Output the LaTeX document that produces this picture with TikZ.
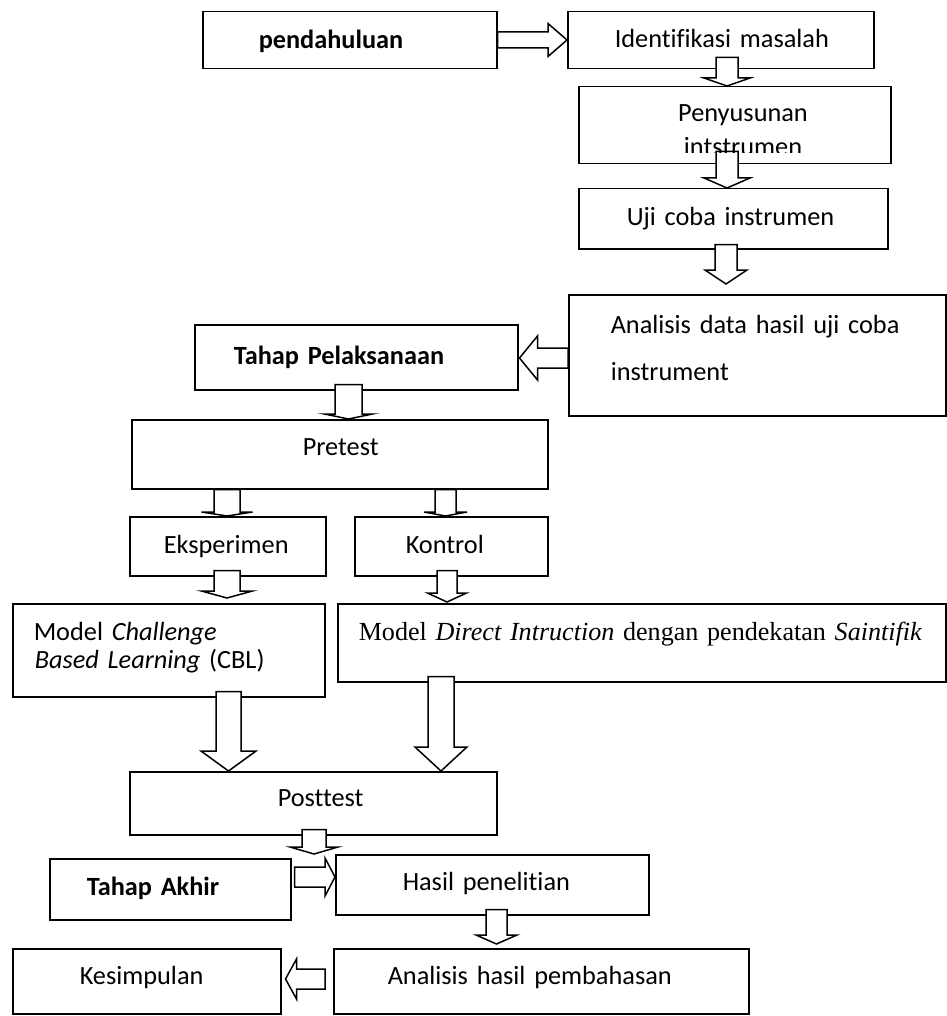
\documentclass[tikz,border=0pt]{standalone}
\usepackage{fontspec}
\setmainfont{Carlito}[Ligatures=NoCommon]
\newfontfamily\tnr{Liberation Serif}[Ligatures=NoCommon]
\usetikzlibrary{calc}
\tikzset{
  box/.style={draw, line width=1.5pt, fill=white, inner sep=0pt, anchor=north west,
              align=left, font=\fontsize{26.3}{32}\selectfont},
  oneline/.style={text height=19pt, text depth=#1},
  barrow/.style={draw, line width=1.5pt, fill=white, line join=miter},
  plaintext/.style={inner sep=0pt, font=\fontsize{26.3}{34}\selectfont, align=center}
}
% down arrow: from, to, x centre, shaft half, head half, head length, start inset, tip gap
\newcommand\dnarr[8]{%
  \draw[barrow] let \p1=(#1.south), \p2=(#2.north) in
    ({#3pt-#4pt},{\y1+(#7pt)}) -- ({#3pt+#4pt},{\y1+(#7pt)}) -- ({#3pt+#4pt},{\y2+(#8pt)+#6pt})
    -- ({#3pt+#5pt},{\y2+(#8pt)+#6pt}) -- ({#3pt},{\y2+(#8pt)}) -- ({#3pt-#5pt},{\y2+(#8pt)+#6pt})
    -- ({#3pt-#4pt},{\y2+(#8pt)+#6pt}) -- cycle;}
% right arrow
\newcommand\rtarr[8]{%
  \draw[barrow] let \p1=(#1.east), \p2=(#2.west) in
    ({\x1-(#7pt)},{-#3pt+#4pt}) -- ({\x2-(#8pt)-#6pt},{-#3pt+#4pt}) -- ({\x2-(#8pt)-#6pt},{-#3pt+#5pt})
    -- ({\x2-(#8pt)},{-#3pt}) -- ({\x2-(#8pt)-#6pt},{-#3pt-#5pt}) -- ({\x2-(#8pt)-#6pt},{-#3pt-#4pt})
    -- ({\x1-(#7pt)},{-#3pt-#4pt}) -- cycle;}
% left arrow
\newcommand\ltarr[8]{%
  \draw[barrow] let \p1=(#1.west), \p2=(#2.east) in
    ({\x1+(#7pt)},{-#3pt+#4pt}) -- ({\x2+(#8pt)+#6pt},{-#3pt+#4pt}) -- ({\x2+(#8pt)+#6pt},{-#3pt+#5pt})
    -- ({\x2+(#8pt)},{-#3pt}) -- ({\x2+(#8pt)+#6pt},{-#3pt-#5pt}) -- ({\x2+(#8pt)+#6pt},{-#3pt-#4pt})
    -- ({\x1+(#7pt)},{-#3pt-#4pt}) -- cycle;}
\begin{document}
\begin{tikzpicture}[x=1pt,y=-1pt]
\path[use as bounding box, fill=white] (0,0) rectangle (946,1016);

% boxes
\node[box, oneline=2pt, minimum width=294pt, minimum height=57pt, text width=294pt] (pend) at (202,11) {\hspace*{56pt}\textbf{pendahuluan}};
\node[box, oneline=4pt, minimum width=306pt, minimum height=57pt, text width=306pt] (iden) at (567,11) {\hspace*{47pt}Identifikasi masalah};
\node[box, minimum width=312pt, minimum height=77pt] (peny) at (578,86) {};
\node[box, oneline=5pt, minimum width=309pt, minimum height=60pt, text width=309pt] (uji) at (578,188) {\hspace*{48pt}Uji coba instrumen};
\node[box, minimum width=377pt, minimum height=121pt, text width=377pt, font=\fontsize{26.3}{47}\selectfont] (anal) at (568,294)
  {\rule{0pt}{19pt}\hspace*{42pt}\makebox[321pt][s]{Analisis data hasil uji coba}\\\hspace*{42pt}instrument\rule[-15pt]{0pt}{15pt}};
\node[box, oneline=4pt, minimum width=323pt, minimum height=65pt, text width=323pt] (tahap) at (194,324) {\hspace*{39pt}\textbf{Tahap Pelaksanaan}};
\node[box, oneline=16pt, minimum width=416pt, minimum height=69pt, text width=416pt] (pre) at (131,419) {\hspace*{171pt}Pretest};
\node[box, oneline=4pt, minimum width=196pt, minimum height=59pt, text width=196pt] (eks) at (129,516) {\hspace*{34pt}Eksperimen};
\node[box, oneline=4pt, minimum width=193pt, minimum height=59pt, text width=193pt] (kon) at (354,516) {\hspace*{51pt}Kontrol};
\node[box, minimum width=312pt, minimum height=93pt, text width=312pt, font=\fontsize{26.3}{28}\selectfont] (cbl) at (12,603)
  {\rule{0pt}{19pt}\hspace*{21pt}Model \textit{Challenge}\\\hspace*{22pt}\textit{Based Learning} (CBL)\rule[-10pt]{0pt}{10pt}};
\node[box, oneline=23pt, minimum width=608pt, minimum height=78pt, text width=608pt, font=\tnr\fontsize{26.1}{32}\selectfont] (dir) at (337,603)
  {\hspace*{21pt}Model \textit{Direct Intruction} dengan pendekatan \textit{Saintifik}};
\node[box, oneline=12pt, minimum width=367pt, minimum height=63pt, text width=367pt] (post) at (129,771) {\hspace*{148pt}Posttest};
\node[box, oneline=6pt, minimum width=241pt, minimum height=61pt, text width=241pt] (akhir) at (49,858) {\hspace*{37pt}\textbf{Tahap Akhir}};
\node[box, oneline=7pt, minimum width=313pt, minimum height=60pt, text width=313pt] (hasil) at (335,854) {\hspace*{67pt}Hasil penelitian};
\node[box, oneline=13pt, minimum width=268pt, minimum height=65pt, text width=268pt] (kes) at (12,948) {\hspace*{67pt}Kesimpulan};
\node[box, oneline=12pt, minimum width=415pt, minimum height=65pt, text width=415pt] (ana2) at (333,948) {\hspace*{54pt}Analisis hasil pembahasan};

% block arrows
\rtarr{pend}{iden}{40}{8}{16.5}{19}{0}{0}
\dnarr{iden}{peny}{727}{11}{23}{8}{12}{0}
\dnarr{peny}{uji}{727}{11}{23}{10}{13}{0}
\dnarr{uji}{anal}{726}{11}{21}{14}{5}{10}
\ltarr{anal}{tahap}{358}{10}{22}{18}{0}{1}
\dnarr{tahap}{pre}{348.5}{13.5}{24}{5}{6}{0}
\dnarr{pre}{eks}{227}{13}{25.5}{4}{0}{0}
\dnarr{pre}{kon}{445.5}{10.5}{21.5}{4}{0}{0}
\dnarr{eks}{cbl}{227}{13}{25.5}{7}{6}{5}
\dnarr{kon}{dir}{447}{10}{19.5}{9}{6}{1}
\dnarr{cbl}{post}{228.5}{12.5}{27.5}{20}{6}{0}
\dnarr{dir}{post}{441}{13}{26}{24}{6}{0}
\dnarr{post}{hasil}{314}{12}{24}{7}{6}{0}
\rtarr{akhir}{hasil}{877}{10}{19}{10}{-3}{0}
\dnarr{hasil}{ana2}{496.5}{10.5}{20.5}{9}{6}{4}
\ltarr{ana2}{kes}{979}{10}{20}{11}{-8}{4}

% text of Penyusunan box, clipped by the box as in the original
\begin{scope}
  \clip (peny.north west) rectangle ($(peny.south east)+(0,-12)$);
  \node[plaintext, anchor=north] (penyt) at (743,102) {\rule{0pt}{19pt}Penyusunan\\intstrumen};
\end{scope}
\end{tikzpicture}
\end{document}
